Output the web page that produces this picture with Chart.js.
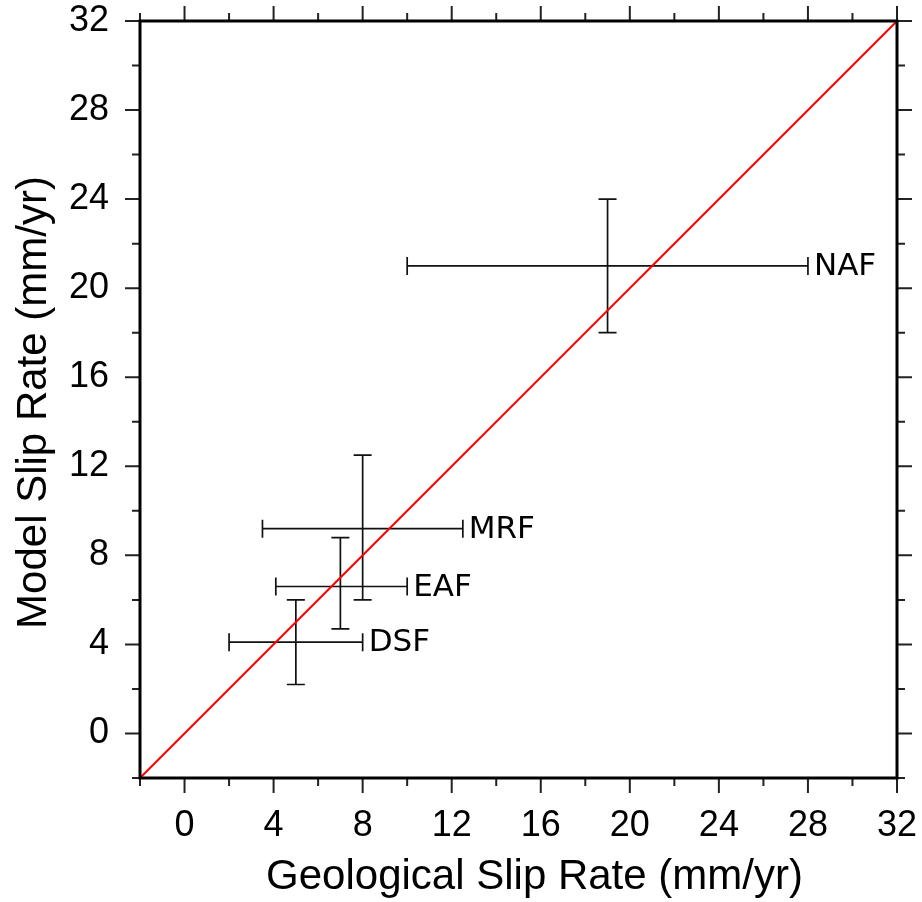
<!DOCTYPE html>
<html>
<head>
<meta charset="utf-8">
<script src="https://cdn.jsdelivr.net/npm/chart.js@4"></script>
<style>
  html, body { margin: 0; padding: 0; background: #fff; }
  #wrap { width: 922px; height: 902px; }
</style>
</head>
<body>
<div id="wrap"><canvas id="slipChart"></canvas></div>
<script>
// fault names and slip rates (mm/yr)
const faults     = ['NAF', 'MRF', 'EAF', 'DSF'];
const geoRate    = [19, 8, 7, 5];
const geoLow     = [10, 3.5, 4.1, 2];
const geoHigh    = [28, 12.5, 10, 8];
const modelRate  = [21, 9.2, 6.6, 4.1];
const modelLow   = [18, 6, 4.7, 2.2];
const modelHigh  = [24, 12.5, 8.8, 6];

// 1:1 reference line end points
const oneToOne = [-2, 32];

// axis range and ticks
const axisMin = -2, axisMax = 32;
const minorStep = 2, majorStep = 4;

const xTitle = 'Geological Slip Rate (mm/yr)';
const yTitle = 'Model Slip Rate (mm/yr)';

const tickFont = { family: 'Liberation Sans', size: 36 };

// error bars + fault labels, drawn under the red line
const errorBars = {
  id: 'errorBars',
  beforeDatasetsDraw(chart) {
    const { ctx, scales: { x, y } } = chart;
    const cap = 9;
    ctx.save();
    ctx.strokeStyle = '#111';
    ctx.lineWidth = 1.7;
    faults.forEach((name, i) => {
      const cx = x.getPixelForValue(geoRate[i]);
      const cy = y.getPixelForValue(modelRate[i]);
      const x0 = x.getPixelForValue(geoLow[i]);
      const x1 = x.getPixelForValue(geoHigh[i]);
      const y0 = y.getPixelForValue(modelLow[i]);
      const y1 = y.getPixelForValue(modelHigh[i]);
      ctx.beginPath();
      ctx.moveTo(x0, cy); ctx.lineTo(x1, cy);
      ctx.moveTo(x0, cy - cap); ctx.lineTo(x0, cy + cap);
      ctx.moveTo(x1, cy - cap); ctx.lineTo(x1, cy + cap);
      ctx.moveTo(cx, y0); ctx.lineTo(cx, y1);
      ctx.moveTo(cx - cap, y0); ctx.lineTo(cx + cap, y0);
      ctx.moveTo(cx - cap, y1); ctx.lineTo(cx + cap, y1);
      ctx.stroke();

      ctx.fillStyle = '#000';
      ctx.font = '31px "DejaVu Sans"';
      ctx.textAlign = 'left';
      ctx.textBaseline = 'middle';
      ctx.fillText(name, x1 + 6, cy + 1);
    });
    ctx.restore();
  }
};

// box frame with outward ticks on all four sides, plus axis titles
const frameTicks = {
  id: 'frameTicks',
  afterDatasetsDraw(chart) {
    const { ctx, chartArea: a, scales: { x, y } } = chart;
    ctx.save();
    ctx.strokeStyle = '#222';
    ctx.lineWidth = 2;
    for (let v = axisMin; v <= axisMax; v += minorStep) {
      const len = v % majorStep === 0 ? 15 : 8;
      const px = x.getPixelForValue(v);
      const py = y.getPixelForValue(v);
      ctx.beginPath();
      ctx.moveTo(px, a.bottom); ctx.lineTo(px, a.bottom + len);
      ctx.moveTo(px, a.top);    ctx.lineTo(px, a.top - len);
      ctx.moveTo(a.left, py);   ctx.lineTo(a.left - len, py);
      ctx.moveTo(a.right, py);  ctx.lineTo(a.right + len, py);
      ctx.stroke();
    }
    ctx.strokeStyle = '#000';
    ctx.lineWidth = 3;
    ctx.strokeRect(a.left, a.top, a.right - a.left, a.bottom - a.top);

    // titles
    ctx.fillStyle = '#000';
    ctx.font = '42px "Liberation Sans"';
    ctx.textAlign = 'center';
    ctx.textBaseline = 'alphabetic';
    ctx.fillText(xTitle, (a.left + a.right) / 2 + 16, 889);
    ctx.translate(46, (a.top + a.bottom) / 2 + 3);
    ctx.rotate(-Math.PI / 2);
    ctx.fillText(yTitle, 0, 0);
    ctx.restore();
  }
};

const tickLabel = v => (v % majorStep === 0 ? v : '');
const noPad = s => { s.paddingTop = 0; s.paddingBottom = 0; s.paddingLeft = 0; s.paddingRight = 0; };

new Chart(document.getElementById('slipChart'), {
  type: 'scatter',
  data: {
    datasets: [{
      label: '1:1',
      data: oneToOne.map(v => ({ x: v, y: v })),
      showLine: true,
      borderColor: '#ff0000',
      borderWidth: 2,
      pointRadius: 0,
      fill: false
    }]
  },
  options: {
    responsive: true,
    maintainAspectRatio: false,
    animation: false,
    layout: { padding: { top: 21, right: 25, left: 0, bottom: 0 } },
    plugins: { legend: { display: false }, tooltip: { enabled: false } },
    scales: {
      x: {
        type: 'linear',
        min: axisMin, max: axisMax,
        grid: { display: false, drawTicks: false },
        border: { display: false },
        ticks: {
          stepSize: minorStep, autoSkip: false, maxRotation: 0,
          color: '#000', font: tickFont, padding: 26,
          callback: tickLabel
        },
        afterFit: s => { s.height = 124; noPad(s); }
      },
      y: {
        type: 'linear',
        min: axisMin, max: axisMax,
        grid: { display: false, drawTicks: false },
        border: { display: false },
        ticks: {
          stepSize: minorStep, autoSkip: false,
          color: '#000', font: tickFont, padding: 31,
          callback: tickLabel
        },
        afterFit: s => { s.width = 140; noPad(s); }
      }
    }
  },
  plugins: [errorBars, frameTicks]
});
</script>
</body>
</html>
